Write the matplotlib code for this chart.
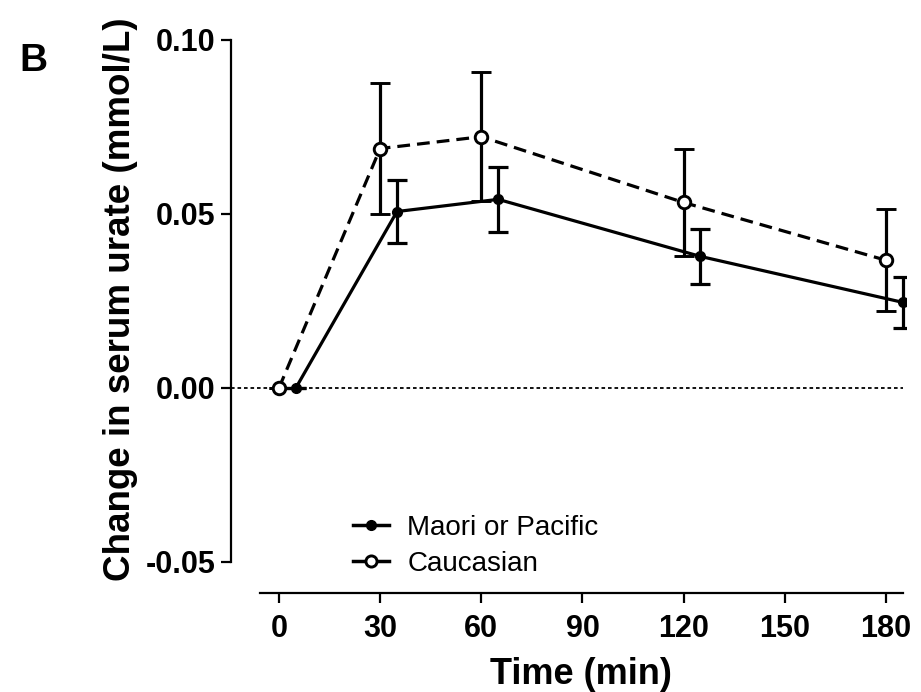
import matplotlib.pyplot as plt
from matplotlib.lines import Line2D

plt.rcParams['font.family'] = ['Liberation Sans', 'DejaVu Sans']

# data
time_cauc = [0, 30, 60, 120, 180]
mean_cauc = [0.0, 0.0688, 0.0722, 0.0533, 0.0367]
sem_cauc = [0.0, 0.0187, 0.0186, 0.0155, 0.0146]

time_maori = [5, 35, 65, 125, 185]
mean_maori = [0.0, 0.0507, 0.0542, 0.0378, 0.0246]
sem_maori = [0.0, 0.0091, 0.0093, 0.0079, 0.0073]

xticks = [0, 30, 60, 90, 120, 150, 180]
yticks = [0.10, 0.05, 0.00, -0.05]
ylabels = ["0.10", "0.05", "0.00", "-0.05"]

fig = plt.figure(figsize=(9.21, 6.92), dpi=100)
ax = fig.add_axes([0.2509, 0.1431, 0.7330, 0.8042])
ax.set_xlim(-14.2, 186)
ax.set_ylim(-0.0589, 0.101)

# zero reference line
ax.plot([-14.2, 185], [0, 0], color='black', lw=1.3, linestyle=(0, (2, 1.6)), zorder=1)

ax.errorbar(time_maori, mean_maori, yerr=sem_maori, color='black', lw=2.3,
            marker='o', ms=7, mfc='black', mec='black', capsize=7, capthick=2.3,
            elinewidth=2.3, zorder=3)
ax.errorbar(time_cauc, mean_cauc, yerr=sem_cauc, color='black', lw=2.3,
            linestyle=(0, (4, 2.2)), marker='o', ms=9, mfc='white', mec='black',
            mew=2.1, capsize=7, capthick=2.3, elinewidth=2.3, zorder=4)

for s in ['top', 'right']:
    ax.spines[s].set_visible(False)
ax.spines['left'].set_bounds(-0.05, 0.10)
ax.spines['bottom'].set_bounds(-5.6, 185)
for s in ['left', 'bottom']:
    ax.spines[s].set_linewidth(1.6)

ax.set_xticks(xticks)
ax.set_yticks(yticks)
ax.set_yticklabels(ylabels)
ax.tick_params(axis='both', direction='out', length=7, width=1.6, pad=4)
ax.tick_params(axis='x', pad=8)
for lab in ax.get_xticklabels() + ax.get_yticklabels():
    lab.set_fontsize(22)
    lab.set_fontweight('bold')

ax.set_xlabel("Time (min)", fontsize=26, fontweight='bold')
ax.xaxis.set_label_coords((581 - 231) / 675, -0.115)
ax.set_ylabel("Change in serum urate (mmol/L)", fontsize=26.5, fontweight='bold')
ax.yaxis.set_label_coords(-0.138, (692 - 299 - 99) / 556.5)

handles = [
    Line2D([], [], color='black', lw=2.5, marker='o', ms=7, mfc='black'),
    Line2D([], [], color='black', lw=2.5, marker='o', ms=8, mfc='white', mew=2.1),
]
fig.legend(handles, ["Maori or Pacific", "Caucasian"], loc='center left',
           bbox_to_anchor=(353 / 921, 1 - 546 / 692), frameon=False,
           fontsize=20, handlelength=1.3, handletextpad=0.65, labelspacing=0.35,
           borderpad=0, borderaxespad=0)

fig.text(33 / 921, 1 - 61 / 692, "B", fontsize=28, fontweight='bold',
         ha='center', va='center')

fig.savefig("out.png", dpi=100)
